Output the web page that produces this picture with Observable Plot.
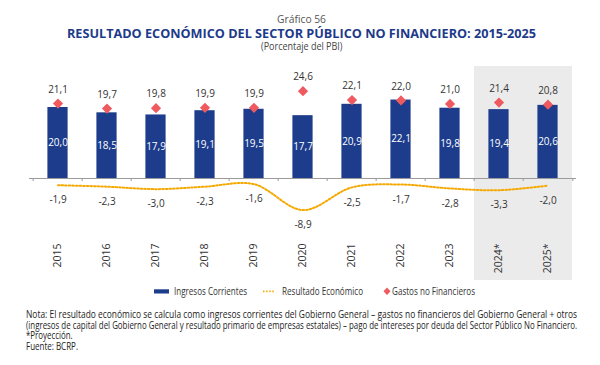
<!DOCTYPE html>
<html>
<head>
<meta charset="utf-8">
<script src="https://cdn.jsdelivr.net/npm/d3@7"></script>
<script src="https://cdn.jsdelivr.net/npm/@observablehq/plot@0.6"></script>
<style>
  html, body { margin: 0; padding: 0; background: #fff; }
  body { width: 600px; height: 365px; position: relative; overflow: hidden; font-family: "Open Sans", sans-serif; }
  #chart { position: absolute; left: 0; top: 60px; }
  #shapes { position: absolute; left: 0; top: 285px; }
  .t { position: absolute; white-space: nowrap; line-height: 1; transform-origin: 0 0; }
</style>
</head>
<body>
<div class="t" data-w="49" data-c="301.5" data-b="23" style="font-size:11px;color:#555">Gráfico 56</div>
<div class="t" data-w="469" data-c="301.5" data-b="39" style="font-size:13px;font-weight:700;color:#1d3a8a">RESULTADO ECONÓMICO DEL SECTOR PÚBLICO NO FINANCIERO: 2015-2025</div>
<div class="t" data-w="81.5" data-c="302" data-b="50" style="font-size:10.5px;color:#444">(Porcentaje del PBI)</div>
<div id="chart"></div>
<svg id="shapes" width="600" height="14">
  <rect x="154" y="4.3" width="15" height="4.2" fill="#1d3c8c"></rect>
  <line x1="263" y1="6.3" x2="274" y2="6.3" stroke="#f5a800" stroke-width="1.8" stroke-dasharray="1.5,1.6"></line>
  <path d="M387,2.5 L390.5,6.2 L387,9.9 L383.5,6.2 Z" fill="#ef5a5f"></path>
</svg>
<div class="t" data-w="73" data-l="174" data-b="295" style="font-size:10px;color:#333">Ingresos Corrientes</div>
<div class="t" data-w="81" data-l="282" data-b="295" style="font-size:10px;color:#333">Resultado Económico</div>
<div class="t" data-w="83" data-l="392" data-b="295" style="font-size:10px;color:#333">Gastos no Financieros</div>
<div class="t" data-w="551" data-l="26" data-b="318" style="font-size:10px;color:#222">Nota: El resultado económico se calcula como ingresos corrientes del Gobierno General – gastos no financieros del Gobierno General + otros</div>
<div class="t" data-w="551" data-l="26" data-b="328.5" style="font-size:10px;color:#222">(ingresos de capital del Gobierno General y resultado primario de empresas estatales) – pago de intereses por deuda del Sector Público No Financiero.</div>
<div class="t" data-w="46.7" data-l="26" data-b="339" style="font-size:10px;color:#222">*Proyección.</div>
<div class="t" data-w="52" data-l="26" data-b="349.5" style="font-size:10px;color:#222">Fuente: BCRP.</div>
<script>
const years = ["2015","2016","2017","2018","2019","2020","2021","2022","2023","2024*","2025*"];
const ingresos = [20.0, 18.5, 17.9, 19.1, 19.5, 17.7, 20.9, 22.1, 19.8, 19.4, 20.6];
const gastos = [21.1, 19.7, 19.8, 19.9, 19.9, 24.6, 22.1, 22.0, 21.0, 21.4, 20.8];
const resultado = [-1.9, -2.3, -3.0, -2.3, -1.6, -8.9, -2.5, -1.7, -2.8, -3.3, -2.0];
const projected = ["2024*", "2025*"];

const data = years.map((y, i) => ({year: y, ing: ingresos[i], gas: gastos[i], res: resultado[i]}));
const fmt = v => v.toFixed(1).replace(".", ",");

const W = 600, mL = 29, mR = 24;
const step = (W - mL - mR) / years.length;
const yMin = -16.06, yMax = 31.55, shadeBottom = -28.73;

const chart = Plot.plot({
  width: W,
  height: 230,
  marginTop: 6,
  marginBottom: 55,
  marginLeft: mL,
  marginRight: mR,
  style: {fontFamily: "Open Sans, sans-serif", background: "transparent"},
  x: {domain: years, padding: 0, label: null},
  y: {domain: [yMin, yMax], axis: null},
  marks: [
    Plot.barY(projected, {x: d => d, y1: shadeBottom, y2: yMax, fill: "#ebebeb"}),
    Plot.barY(data, {x: "year", y: "ing", fill: "#1d3c8c", insetLeft: 14.4, insetRight: 14.4}),
    Plot.ruleY([0], {stroke: "#9a9a9a", strokeWidth: 1}),
    Plot.ruleX(years, {x: d => d, y1: 0, y2: -0.85, dx: -step / 2, stroke: "#9a9a9a"}),
    Plot.ruleX(years.slice(-1), {x: d => d, y1: 0, y2: -0.85, dx: step / 2, stroke: "#9a9a9a"}),
    Plot.line(data, {x: "year", y: "res", stroke: "#f5a800", strokeWidth: 2, strokeDasharray: "1.6,2", curve: "catmull-rom"}),
    Plot.dot(data, {x: "year", y: "gas", symbol: "diamond2", fill: "#ef5a5f", stroke: "none", r: 4.6}),
    Plot.text(data, {x: "year", y: "gas", text: d => fmt(d.gas), dy: -14, fontSize: 10, fill: "#333"}),
    Plot.text(data, {x: "year", y: d => d.ing / 2, text: d => fmt(d.ing), fontSize: 10, fill: "#fff"}),
    Plot.text(data, {x: "year", y: "res", text: d => fmt(d.res), dy: 15, fontSize: 10, fill: "#333"}),
    Plot.axisX({anchor: "bottom", tickRotate: -90, tickSize: 0, tickPadding: 8, fontSize: 10.5, label: null, fill: "#333"})
  ]
});
document.getElementById("chart").appendChild(chart);

// fit header/footer texts to the reference widths and baselines
document.querySelectorAll(".t").forEach(el => {
  const fs = parseFloat(el.style.fontSize);
  const natural = el.getBoundingClientRect().width;
  const target = +el.dataset.w;
  const s = target / natural;
  el.style.transform = `scaleX(${s})`;
  el.style.top = (+el.dataset.b - 0.888 * fs) + "px";
  const left = el.dataset.c !== undefined ? +el.dataset.c - target / 2 : +el.dataset.l;
  el.style.left = left + "px";
});
</script>
</body>
</html>
